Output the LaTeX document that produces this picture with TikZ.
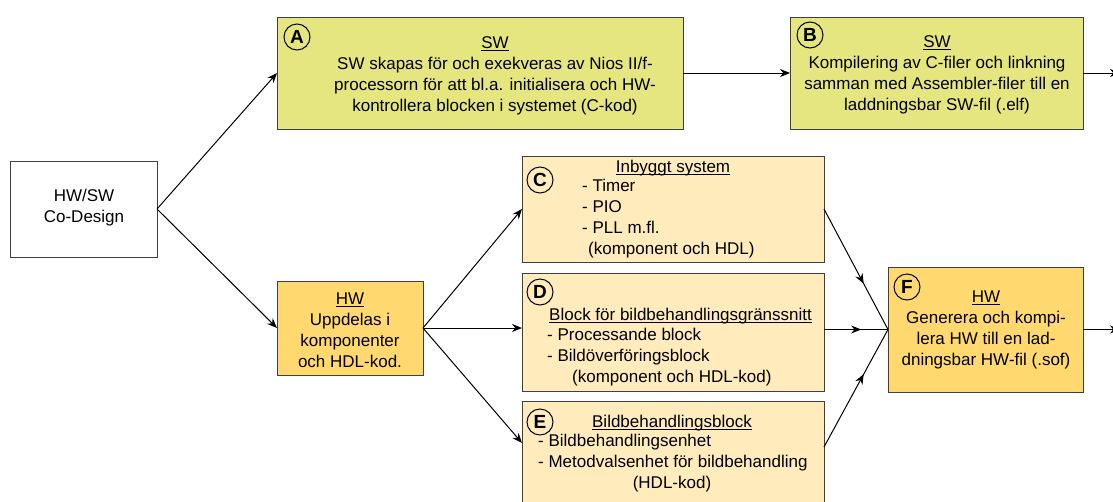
\documentclass[tikz,border=0pt]{standalone}
\usepackage{fontspec}
\setmainfont{Liberation Sans}
\usetikzlibrary{arrows.meta,decorations.markings}
\definecolor{swfill}{RGB}{230,230,128}
\definecolor{hwfill}{RGB}{255,217,112}
\definecolor{subfill}{RGB}{255,235,188}
\definecolor{edgegray}{RGB}{64,64,64}
\newcommand\undl[1]{\leavevmode\setbox0\hbox{#1}\rlap{\rule[-2.2pt]{\wd0}{0.9pt}}\box0}
\begin{document}
\begin{tikzpicture}[x=1pt,y=-1pt,
 box/.style={draw=edgegray, line width=1pt, inner sep=0pt, outer sep=0pt},
 txt/.style={font=\fontsize{17}{21}\selectfont, align=center, inner sep=0pt},
 ltxt/.style={font=\fontsize{17}{21}\selectfont, align=left, inner sep=0pt, anchor=west},
 tag/.style={draw, circle, line width=1pt, minimum size=26pt, inner sep=0pt, font=\fontsize{19}{19}\selectfont\bfseries},
 conn/.style={line width=1pt, -{Stealth[length=10pt,width=8pt]}},
 midarrow/.style={line width=1pt, postaction={decorate}, decoration={markings, mark=at position #1 with {\arrow{Stealth[length=10pt,width=8pt]}}}},
]
\useasboundingbox (0,0) rectangle (1113,501);
\clip (0,0) rectangle (1113,501);

% boxes
\node[box, fill=white, minimum width=147, minimum height=96] (cod) at (83.5,209) {};
\node[box, fill=swfill, minimum width=406, minimum height=112] (a) at (480,73) {};
\node[box, fill=swfill, minimum width=293, minimum height=112] (b) at (936.5,73) {};
\node[box, fill=hwfill, minimum width=146, minimum height=94] (hw) at (350,328) {};
\node[box, fill=subfill, minimum width=302, minimum height=106] (c) at (673,209) {};
\node[box, fill=subfill, minimum width=302, minimum height=118] (d) at (673,332) {};
\node[box, fill=subfill, minimum width=302, minimum height=119] (e) at (673,460.5) {};
\node[box, fill=hwfill, minimum width=195, minimum height=125] (f) at (985.5,329.5) {};

% texts
\node[txt] (tcod) at (84,208) {HW/SW\\Co-Design};
\node[txt] (ta) at (495,76) {\undl{SW}\\SW skapas för och exekveras av Nios II/f-\\processorn för att bl.a. initialisera och HW-\\kontrollera blocken i systemet (C-kod)};
\node[txt] (tb) at (937,75) {\undl{SW}\\Kompilering av C-filer och linkning\\samman med Assembler-filer till en\\laddningsbar SW-fil (.elf)};
\node[txt] (thw) at (350,330) {\undl{HW}\\Uppdelas i\\komponenter\\och HDL-kod.};
\node[txt] (tc1) at (673,168) {\undl{Inbyggt system}};
\node[ltxt] (tc2) at (582,219) {- Timer\\- PIO\\- PLL m.fl.\\\hspace*{6pt}(komponent och HDL)};
\node[ltxt] (td1) at (549,316) {\undl{Block för bildbehandlingsgränssnitt}};
\node[ltxt] (td2) at (547,357) {- Processande block\\- Bildöverföringsblock\\\hspace*{25pt}(komponent och HDL-kod)};
\node[txt] (te1) at (672,423) {\undl{Bildbehandlingsblock}};
\node[ltxt] (te2) at (538,453) {- Bildbehandlingsenhet\\- Metodvalsenhet för bildbehandling};
\node[txt] (te3) at (672,484) {(HDL-kod)};
\node[txt] (tf) at (986,330) {\undl{HW}\\Generera och kompi-\\lera HW till en lad-\\dningsbar HW-fil (.sof)};

% tags
\node[tag] (ga) at (297,37) {A};
\node[tag] (gb) at (810,35) {B};
\node[tag] (gc) at (540,180) {C};
\node[tag] (gd) at (540,292) {D};
\node[tag] (ge) at (540,422) {E};
\node[tag] (gf) at (907,287) {F};

% connectors
\coordinate (ein) at (522,443);
\coordinate (eout) at (824,447);
\coordinate (bout) at (1120,73);
\coordinate (fout) at (1120,329.5);
\draw[conn] (cod.east) -- (a.west);
\draw[conn] (cod.east) -- (hw.west);
\draw[conn] (hw.east) -- (c.west);
\draw[conn] (hw.east) -- (hw.east -| d.west);
\draw[conn] (hw.east) -- (ein);
\draw[conn] (a.east) -- (b.west);
\draw[conn] (b.east) -- (bout);
\draw[conn] (f.east) -- (fout);
\draw[midarrow=0.62] (c.east) -- (f.west);
\draw[midarrow=0.58] (f.west -| d.east) -- (f.west);
\draw[midarrow=0.62] (eout) -- (f.west);
\end{tikzpicture}
\end{document}
